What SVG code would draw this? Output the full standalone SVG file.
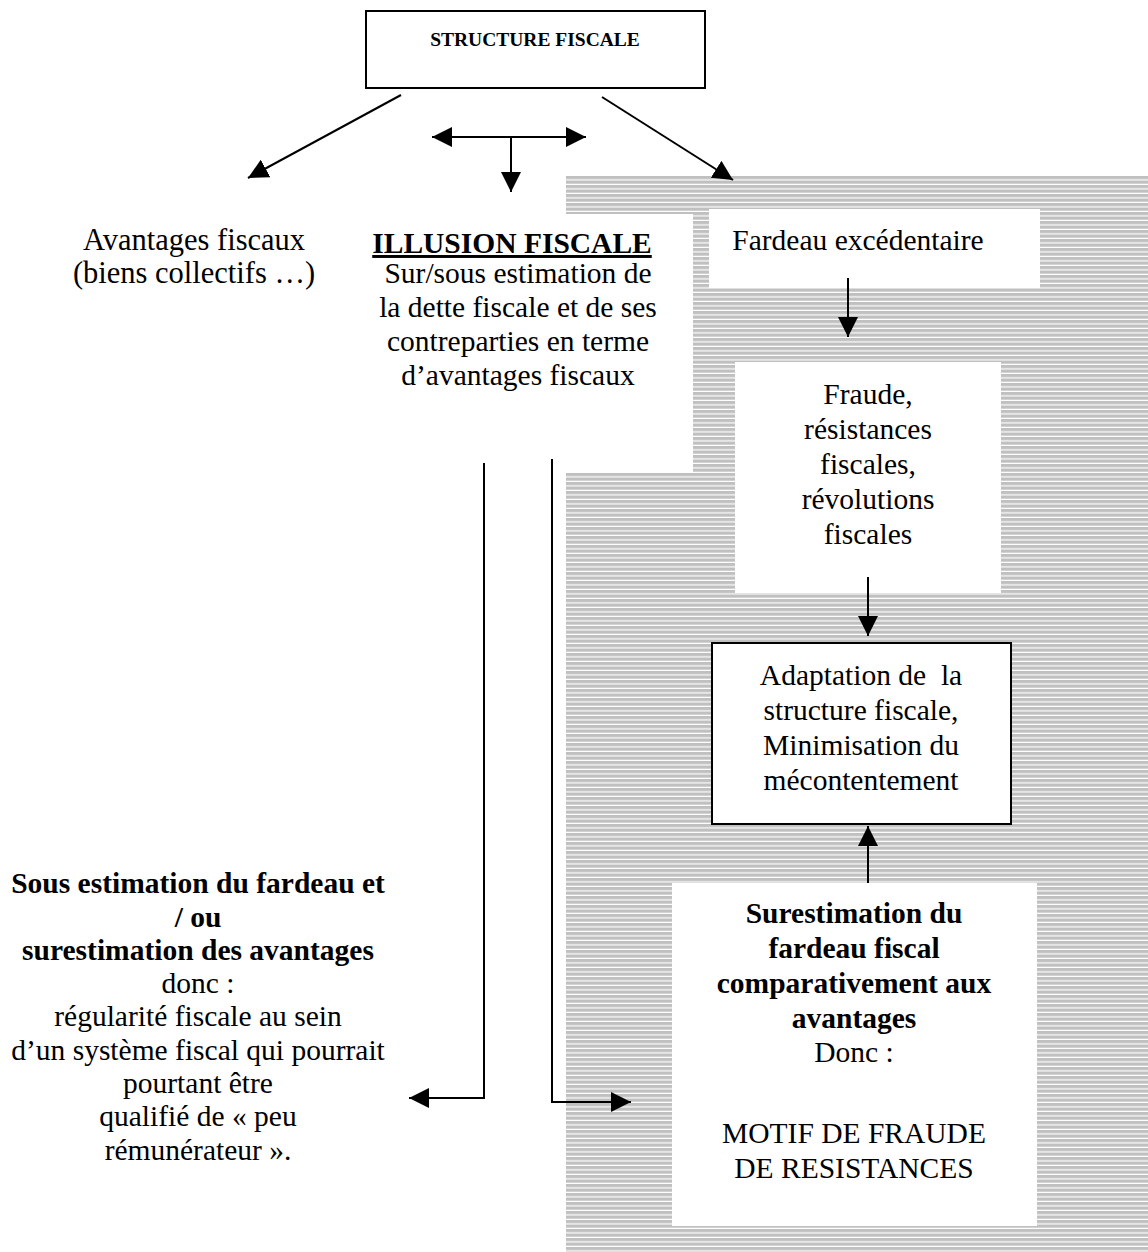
<svg xmlns="http://www.w3.org/2000/svg" width="1148" height="1252" viewBox="0 0 1148 1252">
<style>
  .t { font-family: "Liberation Serif", "Times New Roman", serif; font-size: 29.5px; fill: #000; text-anchor: middle; }
  .b { font-weight: bold; }
  .ln { stroke: #000; stroke-width: 2; fill: none; }
  .box { fill: #fff; stroke: #000; stroke-width: 2; }
  .wb { fill: #fff; stroke: none; }
</style>
<defs>
  <pattern id="stripes" x="0" y="176" width="10" height="4.5" patternUnits="userSpaceOnUse">
    <rect x="0" y="0" width="10" height="3.3" fill="#c0c0c0"/>
  </pattern>
  <marker id="ah" viewBox="0 0 20 20" refX="20" refY="10" markerWidth="20" markerHeight="20" markerUnits="userSpaceOnUse" orient="auto-start-reverse">
    <path d="M0,0 L20,10 L0,20 z" fill="#000"/>
  </marker>
</defs>
<rect width="1148" height="1252" fill="#fff"/>
<g id="background">
  <rect x="566" y="176" width="582" height="1076" fill="url(#stripes)"/>
</g>
<g id="structure">
  <rect class="box" x="366" y="11" width="339" height="77"/>
  <text class="t b" x="535" y="46" style="font-size:19.5px">STRUCTURE FISCALE</text>
</g>
<g id="avantages">
  <text class="t" x="194" y="250" style="font-size:30.5px">Avantages fiscaux</text>
  <text class="t" x="194" y="283" style="font-size:30.5px">(biens collectifs …)</text>
</g>
<g id="illusion">
  <rect class="wb" x="330" y="214" width="363" height="259"/>
  <text class="t b" x="512" y="253" text-decoration="underline">ILLUSION FISCALE</text>
  <text class="t" x="518" y="283">Sur/sous estimation de</text>
  <text class="t" x="518" y="317">la dette fiscale et de ses</text>
  <text class="t" x="518" y="351">contreparties en terme</text>
  <text class="t" x="518" y="385">d’avantages fiscaux</text>
</g>
<g id="fardeau">
  <rect class="wb" x="709" y="209" width="331" height="79"/>
  <text class="t" x="858" y="250">Fardeau excédentaire</text>
</g>
<g id="fraude">
  <rect class="wb" x="735" y="362" width="266" height="231"/>
  <text class="t" x="868" y="404">Fraude,</text>
  <text class="t" x="868" y="439">résistances</text>
  <text class="t" x="868" y="474">fiscales,</text>
  <text class="t" x="868" y="509">révolutions</text>
  <text class="t" x="868" y="544">fiscales</text>
</g>
<g id="adaptation">
  <rect class="box" x="712" y="643" width="299" height="181"/>
  <text class="t" x="861" y="685" xml:space="preserve">Adaptation de  la</text>
  <text class="t" x="861" y="720">structure fiscale,</text>
  <text class="t" x="861" y="755">Minimisation du</text>
  <text class="t" x="861" y="790">mécontentement</text>
</g>
<g id="surestimation">
  <rect class="wb" x="672" y="883" width="365" height="343"/>
  <text class="t b" x="854" y="923">Surestimation du</text>
  <text class="t b" x="854" y="958">fardeau fiscal</text>
  <text class="t b" x="854" y="993">comparativement aux</text>
  <text class="t b" x="854" y="1028">avantages</text>
  <text class="t" x="854" y="1062">Donc :</text>
  <text class="t" x="854" y="1143">MOTIF DE FRAUDE</text>
  <text class="t" x="854" y="1178">DE RESISTANCES</text>
</g>
<g id="sous-estimation">
  <text class="t b" x="198" y="893">Sous estimation du fardeau et</text>
  <text class="t b" x="198" y="927">/ ou</text>
  <text class="t b" x="198" y="960">surestimation des avantages</text>
  <text class="t" x="198" y="993">donc :</text>
  <text class="t" x="198" y="1026">régularité fiscale au sein</text>
  <text class="t" x="198" y="1060">d’un système fiscal qui pourrait</text>
  <text class="t" x="198" y="1093">pourtant être</text>
  <text class="t" x="198" y="1126">qualifié de « peu</text>
  <text class="t" x="198" y="1160">rémunérateur ».</text>
</g>
<g id="connectors">
  <line class="ln" x1="401" y1="95" x2="248" y2="178" marker-end="url(#ah)"/>
  <line class="ln" x1="602" y1="97" x2="733" y2="180" marker-end="url(#ah)"/>
  <line class="ln" x1="432" y1="137" x2="586" y2="137" marker-start="url(#ah)" marker-end="url(#ah)"/>
  <line class="ln" x1="511" y1="137" x2="511" y2="192" marker-end="url(#ah)"/>
  <line class="ln" x1="848" y1="278" x2="848" y2="337" marker-end="url(#ah)"/>
  <line class="ln" x1="868" y1="577" x2="868" y2="636" marker-end="url(#ah)"/>
  <line class="ln" x1="868" y1="883" x2="868" y2="826" marker-end="url(#ah)"/>
  <path class="ln" d="M484,463 V1098 H409" marker-end="url(#ah)"/>
  <path class="ln" d="M552,459 V1102 H631" marker-end="url(#ah)"/>
</g>
</svg>
